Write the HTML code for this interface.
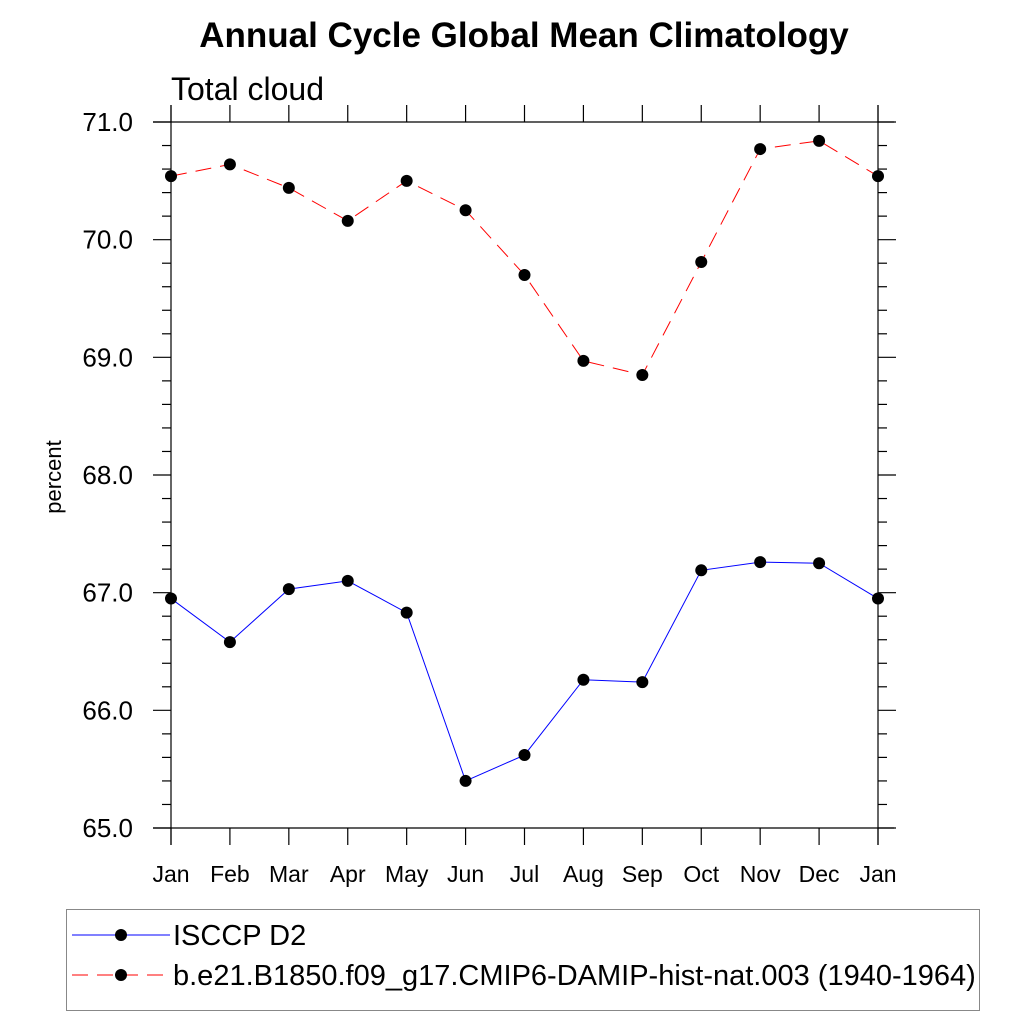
<!DOCTYPE html>
<html><head><meta charset="utf-8"><style>
body{margin:0;background:#fff;font-family:"Liberation Sans",sans-serif}
</style></head><body>
<svg id="chart" width="1024" height="1024" xmlns="http://www.w3.org/2000/svg" font-family="Liberation Sans, sans-serif">
<rect width="1024" height="1024" fill="#fff"/>
<text x="524" y="47" font-size="35" font-weight="bold" text-anchor="middle">Annual Cycle Global Mean Climatology</text>
<text x="171" y="100" font-size="32">Total cloud</text>
<text transform="translate(61,477) rotate(-90)" font-size="22" text-anchor="middle">percent</text>
<g id="axes"></g><g id="series"></g>
<rect x="66.5" y="909.5" width="913" height="101" fill="none" stroke="#888" stroke-width="1"/>
<line x1="72" y1="935" x2="170" y2="935" stroke="#00f" stroke-width="1"/>
<circle cx="121" cy="935" r="6" fill="#000"/>
<text x="173" y="945" font-size="29">ISCCP D2</text>
<line x1="72" y1="975" x2="170" y2="975" stroke="#f00" stroke-width="1" stroke-dasharray="16,9"/>
<circle cx="121" cy="975" r="6" fill="#000"/>
<text x="173" y="985" font-size="29">b.e21.B1850.f09_g17.CMIP6-DAMIP-hist-nat.003 (1940-1964)</text>
</svg>
<script>
const months=["Jan","Feb","Mar","Apr","May","Jun","Jul","Aug","Sep","Oct","Nov","Dec","Jan"];
const modelVals=[70.54,70.64,70.44,70.16,70.50,70.25,69.70,68.97,68.85,69.81,70.77,70.84,70.54];
const obsVals=[66.95,66.58,67.03,67.10,66.83,65.40,65.62,66.26,66.24,67.19,67.26,67.25,66.95];
const yTicks=[65,66,67,68,69,70,71];
const NS="http://www.w3.org/2000/svg";
const X0=171,X1=878,Y0=122,Y1=828,YMIN=65,YMAX=71;
const xs=i=>X0+i*(X1-X0)/(months.length-1);
const ys=v=>Y1-(v-YMIN)*(Y1-Y0)/(YMAX-YMIN);
function mk(t,a,p){const e=document.createElementNS(NS,t);for(const k in a)e.setAttribute(k,a[k]);p.appendChild(e);return e;}
const ax=document.getElementById('axes'),se=document.getElementById('series');
const frame=mk('g',{stroke:'#000','stroke-width':1.2,fill:'none'},ax);


mk('line',{x1:153,y1:Y0,x2:894,y2:Y0},frame);
mk('line',{x1:153,y1:Y1,x2:894,y2:Y1},frame);
mk('line',{x1:X0,y1:105,x2:X0,y2:845},frame);
mk('line',{x1:X1,y1:105,x2:X1,y2:845},frame);
months.forEach((m,i)=>{const x=xs(i);
 mk('line',{x1:x,y1:Y0,x2:x,y2:105},frame);mk('line',{x1:x,y1:Y1,x2:x,y2:845},frame);
 const t=mk('text',{x:x,y:882,'font-size':23,'text-anchor':'middle',fill:'#000'},ax);t.textContent=m;
 
 });
for(let v=YMIN;v<=YMAX+1e-9;v+=0.2){const y=ys(v);const major=Math.abs(v-Math.round(v))<1e-6;
 const L=major?18:9;mk('line',{x1:X0,y1:y,x2:X0-L,y2:y},frame);mk('line',{x1:X1,y1:y,x2:X1+L,y2:y},frame);}
yTicks.forEach(v=>{const t=mk('text',{x:133,y:ys(v)+9,'font-size':26,'text-anchor':'end',fill:'#000'},ax);t.textContent=v.toFixed(1);
 
 });
function series(vals,color,dash,name){
 const p=mk('polyline',{points:vals.map((v,i)=>xs(i)+','+ys(v)).join(' '),fill:'none',stroke:color,'stroke-width':1,'stroke-dasharray':dash},se);
 
 
 vals.forEach((v,i)=>{const c=mk('circle',{cx:xs(i),cy:ys(v),r:6,fill:'#000'},se);
  
  });
}
series(modelVals,'#f00','16,9','model');
series(obsVals,'#00f','none','isccp');
</script>
</body></html>
